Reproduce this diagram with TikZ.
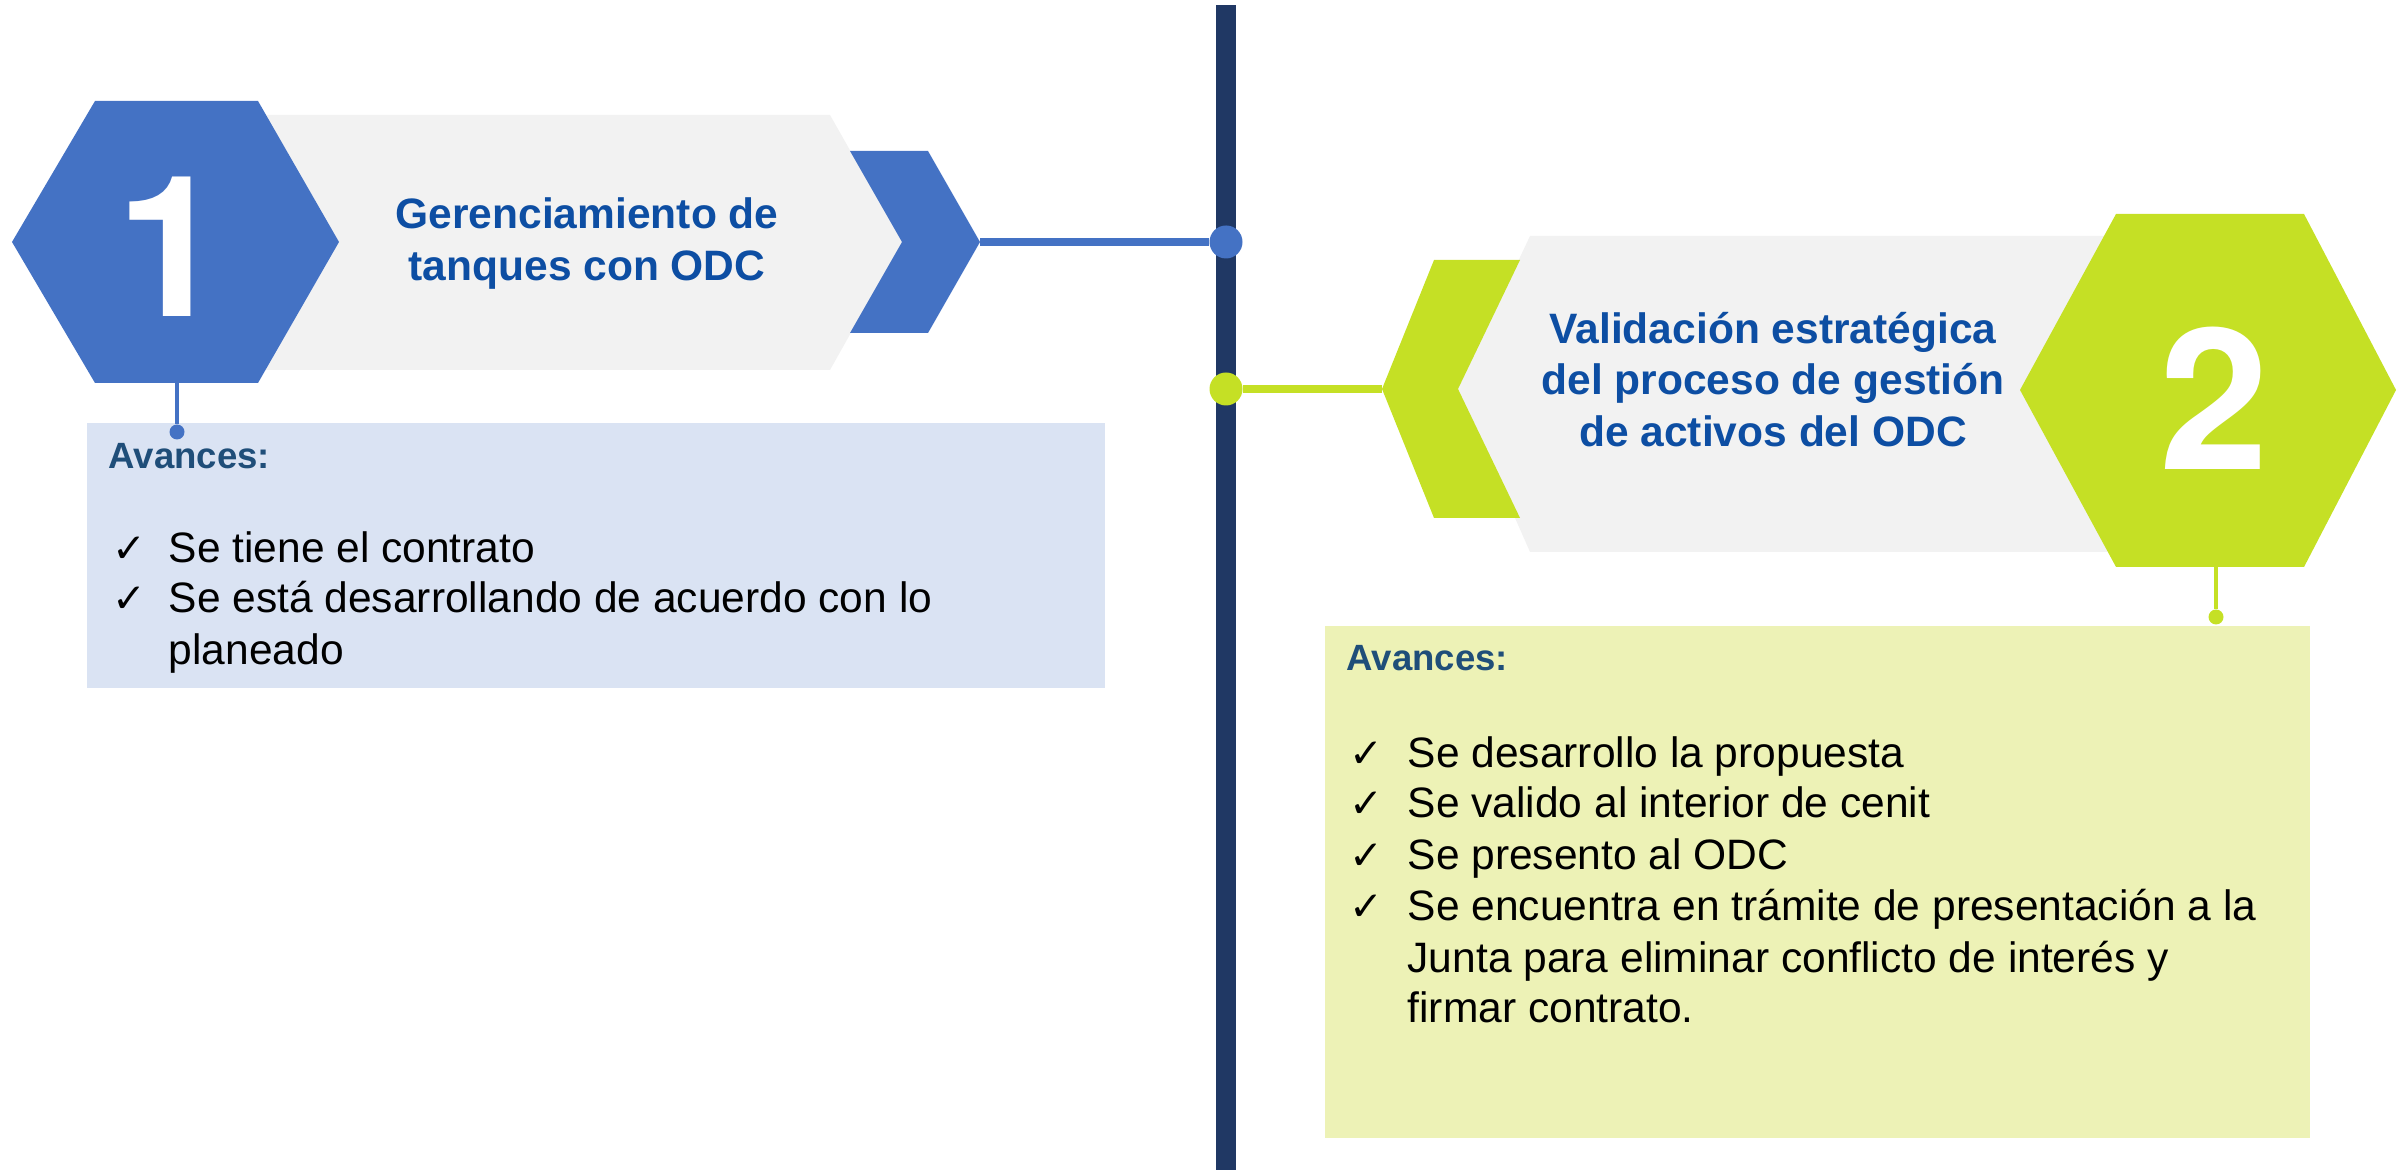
\documentclass[tikz,border=0pt]{standalone}
\usepackage{fontspec}
\setmainfont{Liberation Sans}
\newfontfamily\checkfont{DejaVu Sans}
\newfontfamily\digitfont{TeX Gyre Heros}
\definecolor{hexblue}{HTML}{4472C4}
\definecolor{axisnavy}{HTML}{203864}
\definecolor{limeg}{HTML}{C5E025}
\definecolor{bannergrey}{HTML}{F2F2F2}
\definecolor{paleblue}{HTML}{DAE3F3}
\definecolor{palelime}{HTML}{EDF2B6}
\definecolor{titleblue}{HTML}{0D4EA3}
\definecolor{headblue}{HTML}{1F4E79}
\begin{document}
\begin{tikzpicture}[x=1cm, y=1cm,
  title/.style={anchor=base, text=titleblue, inner sep=0pt, font=\fontsize{12.1}{14}\selectfont\bfseries},
  head/.style={anchor=base west, text=headblue, inner sep=0pt, font=\fontsize{10.4}{12}\selectfont\bfseries},
  item/.style={anchor=base west, inner sep=0pt, font=\fontsize{12.1}{14}\selectfont},
  tick/.style={anchor=base west, inner sep=0pt, font=\checkfont\fontsize{11.5}{14}\selectfont},
  digit/.style={text=white, inner sep=0pt, font=\digitfont\fontsize{56}{60}\selectfont\bfseries},
  bigdot/.style={circle, minimum size=0.33cm, inner sep=0pt},
  smalldot/.style={circle, minimum size=0.15cm, inner sep=0pt}]
\useasboundingbox (0,0) rectangle (24.05,11.70);
\coordinate (axbot) at (12.26,0);
\coordinate (axtop) at (12.26,11.65);
\draw[axisnavy, line width=5.7pt] (axbot) -- (axtop);
\node[bigdot, fill=hexblue] (m1) at (12.26,9.28) {};
\node[bigdot, fill=limeg] (m2) at (12.26,7.81) {};
% paso 1
\fill[bannergrey] (2.0,10.55) -- (8.30,10.55) -- (9.02,9.28) -- (8.30,8.00) -- (2.0,8.00) -- cycle;
\fill[hexblue] (8.50,10.19) -- (9.28,10.19) -- (9.80,9.28) -- (9.28,8.37) -- (8.50,8.37) -- (9.02,9.28) -- cycle;
\fill[hexblue] (0.12,9.28) -- (0.95,10.69) -- (2.58,10.69) -- (3.39,9.28) -- (2.58,7.87) -- (0.95,7.87) -- cycle;
\node[digit] (n1) at (1.71,9.23) {1};
\node[title] (g1a) at (5.87,9.41) {Gerenciamiento de};
\node[title] (g1b) at (5.87,8.89) {tanques con ODC};
\coordinate (p1) at (9.80,9.28);
\draw[hexblue, line width=2.2pt] (p1) -- (m1);
\fill[paleblue] (0.87,4.82) rectangle (11.05,7.47);
\coordinate (h1) at (1.77,7.87);
\node[smalldot, fill=hexblue] (k1) at (1.77,7.38) {};
\draw[hexblue, line width=1.1pt] (h1) -- (k1);
\node[head] (a1) at (1.08,7.01) {Avances:};
\node[tick] (c1a) at (1.12,6.07) {✓};
\node[item] (e1a) at (1.68,6.07) {Se tiene el contrato};
\node[tick] (c1b) at (1.12,5.57) {✓};
\node[item] (e1b) at (1.68,5.57) {Se está desarrollando de acuerdo con lo};
\node[item] (e1c) at (1.68,5.05) {planeado};
% paso 2
\fill[bannergrey] (22.0,9.34) -- (15.30,9.34) -- (14.58,7.81) -- (15.30,6.18) -- (22.0,6.18) -- cycle;
\fill[limeg] (13.82,7.81) -- (14.34,9.10) -- (15.20,9.10) -- (14.58,7.81) -- (15.20,6.52) -- (14.34,6.52) -- cycle;
\fill[limeg] (20.20,7.80) -- (21.16,9.56) -- (23.04,9.56) -- (23.96,7.80) -- (23.04,6.03) -- (21.16,6.03) -- cycle;
\node[digit] (n2) at (22.14,7.72) {2};
\node[title] (g2a) at (17.73,8.26) {Validación estratégica};
\node[title] (g2b) at (17.73,7.75) {del proceso de gestión};
\node[title] (g2c) at (17.73,7.23) {de activos del ODC};
\coordinate (p2) at (13.82,7.81);
\draw[limeg, line width=2.2pt] (m2) -- (p2);
\fill[palelime] (13.25,0.32) rectangle (23.10,5.44);
\coordinate (h2) at (22.16,6.03);
\node[smalldot, fill=limeg] (k2) at (22.16,5.53) {};
\draw[limeg, line width=1.1pt] (h2) -- (k2);
\node[head] (a2) at (13.46,4.99) {Avances:};
\node[tick] (c2a) at (13.49,4.02) {✓};
\node[item] (e2a) at (14.07,4.02) {Se desarrollo la propuesta};
\node[tick] (c2b) at (13.49,3.52) {✓};
\node[item] (e2b) at (14.07,3.52) {Se valido al interior de cenit};
\node[tick] (c2c) at (13.49,3.00) {✓};
\node[item] (e2c) at (14.07,3.00) {Se presento al ODC};
\node[tick] (c2d) at (13.49,2.49) {✓};
\node[item] (e2d) at (14.07,2.49) {Se encuentra en trámite de presentación a la};
\node[item] (e2e) at (14.07,1.97) {Junta para eliminar conflicto de interés y};
\node[item] (e2f) at (14.07,1.47) {firmar contrato.};
\end{tikzpicture}
\end{document}
